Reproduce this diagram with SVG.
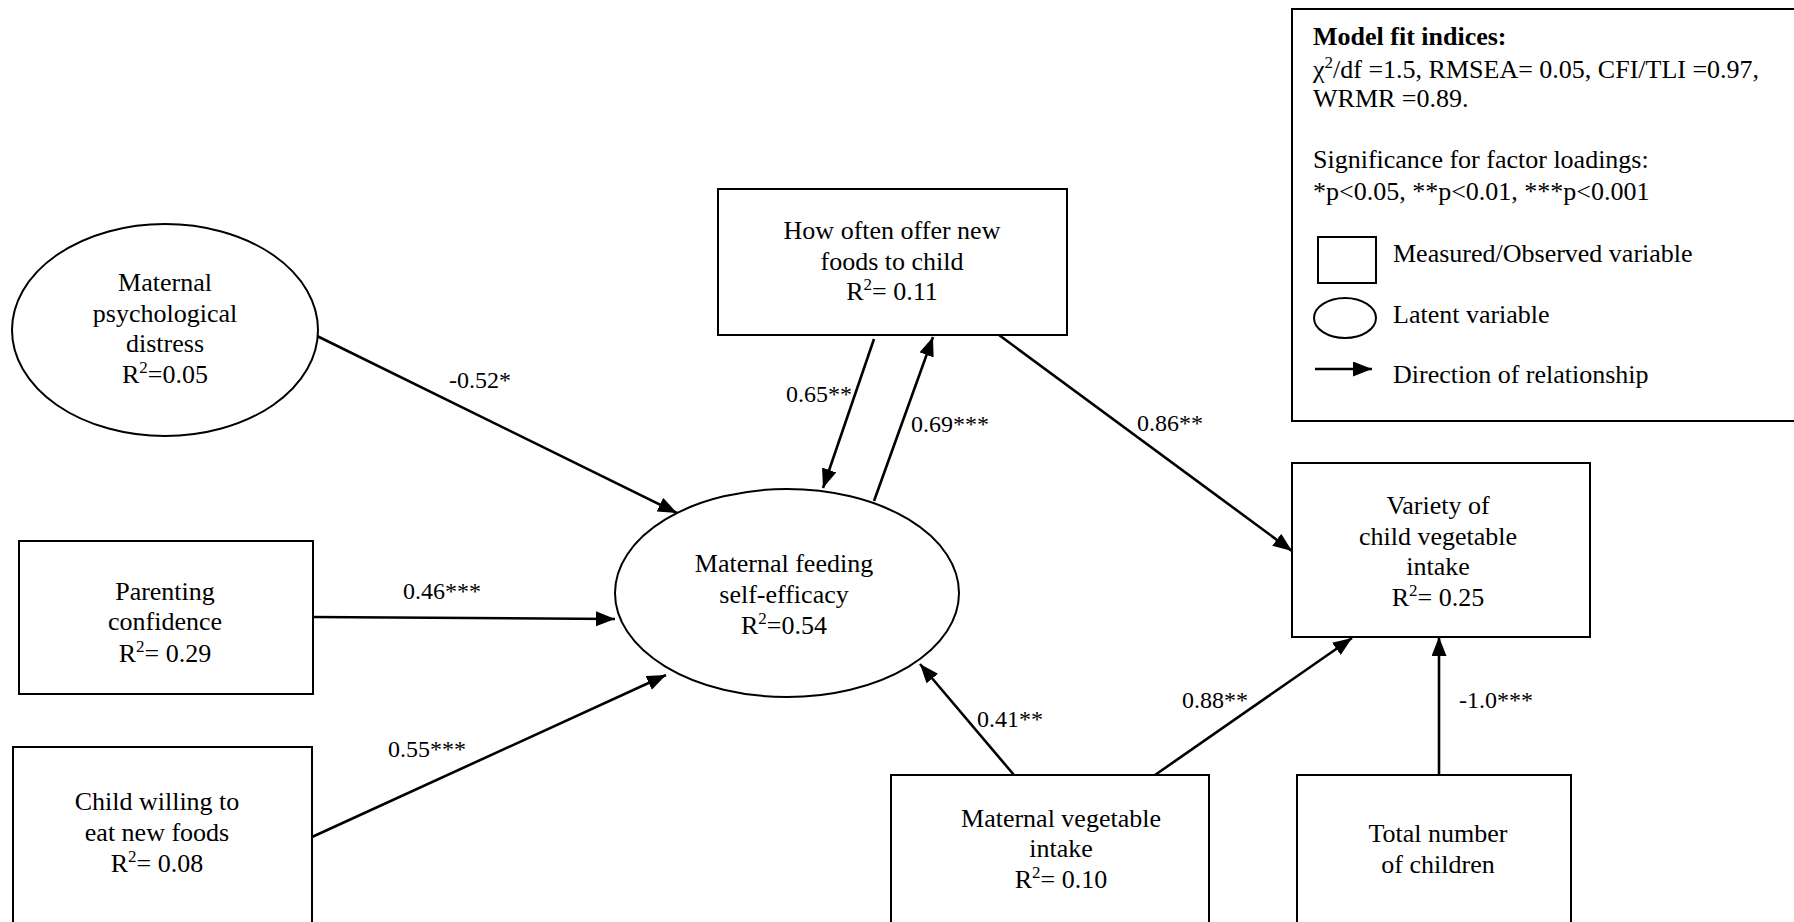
<svg xmlns="http://www.w3.org/2000/svg" width="1794" height="922" viewBox="0 0 1794 922">
  <style>
    text { font-family: "Liberation Serif", "Times New Roman", serif; fill: #000; }
    .node text { font-size: 26px; text-anchor: middle; }
    .box { fill: #fff; stroke: #000; stroke-width: 2; }
    .edge { stroke: #000; stroke-width: 2.6; fill: none; marker-end: url(#arrow); }
    .lbl { font-size: 24px; }
    .legend text { font-size: 26px; }
    .sup { font-size: 17px; }
  </style>
  <defs>
    <marker id="arrow" markerUnits="userSpaceOnUse" markerWidth="20" markerHeight="16" refX="19" refY="7.5" orient="auto">
      <path d="M0,0 L19,7.5 L0,15 Z" fill="#000"/>
    </marker>
  </defs>

  <rect width="1794" height="922" fill="#fff"/>

  <!-- Legend -->
  <g id="legend" class="legend">
    <rect class="box" x="1292" y="9" width="520" height="412"/>
    <text x="1313" y="45" font-weight="bold">Model fit indices:</text>
    <text x="1313" y="78">χ<tspan class="sup" dy="-10">2</tspan><tspan dy="10">/df =1.5, RMSEA= 0.05, CFI/TLI =0.97,</tspan></text>
    <text x="1313" y="107">WRMR =0.89.</text>
    <text x="1313" y="168">Significance for factor loadings:</text>
    <text x="1313" y="200">*p&lt;0.05, **p&lt;0.01, ***p&lt;0.001</text>
    <rect class="box" x="1318" y="237" width="58" height="46"/>
    <text x="1393" y="262">Measured/Observed variable</text>
    <ellipse class="box" cx="1345" cy="318" rx="31" ry="20"/>
    <text x="1393" y="323">Latent variable</text>
    <line class="edge" x1="1315" y1="369" x2="1372" y2="369"/>
    <text x="1393" y="383">Direction of relationship</text>
  </g>

  <!-- Paths between variables -->
  <g id="connectors">
    <line class="edge" x1="315" y1="335" x2="677" y2="513"/>
    <line class="edge" x1="313" y1="617" x2="615" y2="619"/>
    <line class="edge" x1="312" y1="837" x2="666" y2="675"/>
    <line class="edge" x1="874" y1="339" x2="823" y2="488"/>
    <line class="edge" x1="874" y1="501" x2="933" y2="337"/>
    <line class="edge" x1="999" y1="335" x2="1292" y2="551"/>
    <line class="edge" x1="1014" y1="775" x2="920" y2="664"/>
    <line class="edge" x1="1155" y1="775" x2="1352" y2="638"/>
    <line class="edge" x1="1439" y1="775" x2="1439" y2="637"/>
    <text class="lbl" x="449" y="388">-0.52*</text>
    <text class="lbl" x="403" y="599">0.46***</text>
    <text class="lbl" x="388" y="757">0.55***</text>
    <text class="lbl" x="786" y="402">0.65**</text>
    <text class="lbl" x="911" y="432">0.69***</text>
    <text class="lbl" x="1137" y="431">0.86**</text>
    <text class="lbl" x="977" y="727">0.41**</text>
    <text class="lbl" x="1182" y="708">0.88**</text>
    <text class="lbl" x="1459" y="708">-1.0***</text>
  </g>

  <!-- Latent variables -->
  <g id="distress" class="node">
    <ellipse class="box" cx="165" cy="330" rx="153" ry="106"/>
    <text x="165" y="291">Maternal</text>
    <text x="165" y="322">psychological</text>
    <text x="165" y="352">distress</text>
    <text x="165" y="383">R<tspan class="sup" dy="-10">2</tspan><tspan dy="10">=0.05</tspan></text>
  </g>

  <g id="efficacy" class="node">
    <ellipse class="box" cx="787" cy="593" rx="172" ry="104"/>
    <text x="784" y="572">Maternal feeding</text>
    <text x="784" y="603">self-efficacy</text>
    <text x="784" y="634">R<tspan class="sup" dy="-10">2</tspan><tspan dy="10">=0.54</tspan></text>
  </g>

  <!-- Measured variables -->
  <g id="offer" class="node">
    <rect class="box" x="718" y="189" width="349" height="146"/>
    <text x="892" y="239">How often offer new</text>
    <text x="892" y="270">foods to child</text>
    <text x="892" y="300">R<tspan class="sup" dy="-10">2</tspan><tspan dy="10">= 0.11</tspan></text>
  </g>

  <g id="parenting" class="node">
    <rect class="box" x="19" y="541" width="294" height="153"/>
    <text x="165" y="600">Parenting</text>
    <text x="165" y="630">confidence</text>
    <text x="165" y="662">R<tspan class="sup" dy="-10">2</tspan><tspan dy="10">= 0.29</tspan></text>
  </g>

  <g id="willing" class="node">
    <rect class="box" x="13" y="747" width="299" height="200"/>
    <text x="157" y="810">Child willing to</text>
    <text x="157" y="841">eat new foods</text>
    <text x="157" y="872">R<tspan class="sup" dy="-10">2</tspan><tspan dy="10">= 0.08</tspan></text>
  </g>

  <g id="variety" class="node">
    <rect class="box" x="1292" y="463" width="298" height="174"/>
    <text x="1438" y="514">Variety of</text>
    <text x="1438" y="545">child vegetable</text>
    <text x="1438" y="575">intake</text>
    <text x="1438" y="606">R<tspan class="sup" dy="-10">2</tspan><tspan dy="10">= 0.25</tspan></text>
  </g>

  <g id="vegintake" class="node">
    <rect class="box" x="891" y="775" width="318" height="200"/>
    <text x="1061" y="827">Maternal vegetable</text>
    <text x="1061" y="857">intake</text>
    <text x="1061" y="888">R<tspan class="sup" dy="-10">2</tspan><tspan dy="10">= 0.10</tspan></text>
  </g>

  <g id="children" class="node">
    <rect class="box" x="1297" y="775" width="274" height="200"/>
    <text x="1438" y="842">Total number</text>
    <text x="1438" y="873">of children</text>
  </g>
</svg>
